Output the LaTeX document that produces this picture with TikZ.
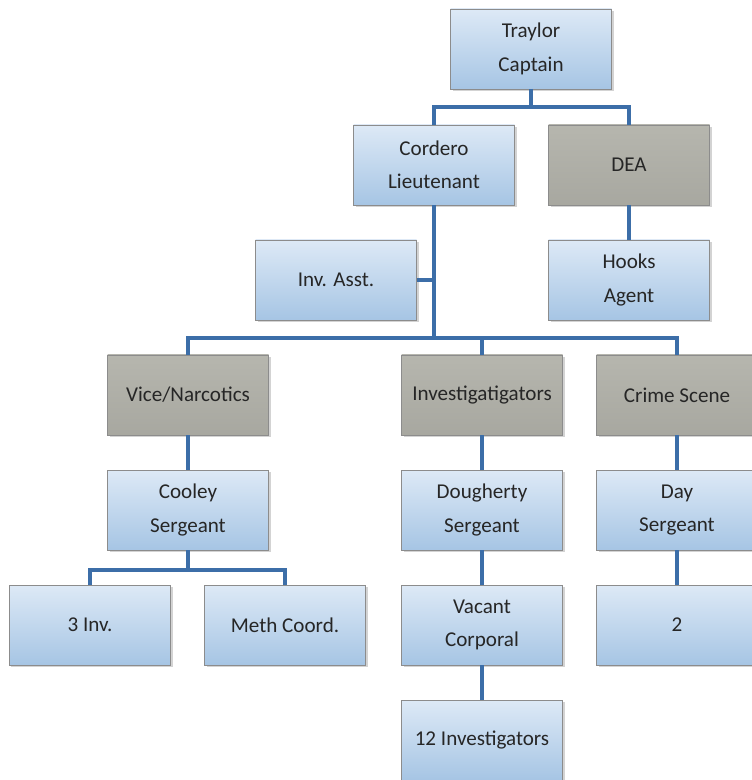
\documentclass[tikz,border=0pt]{standalone}
\usepackage{fontspec}
\setmainfont{Carlito}
\usepackage{xcolor}
\usepackage{tikz}
\usetikzlibrary{calc,positioning,shadows}
\definecolor{boxtop}{HTML}{DDE9F6}
\definecolor{boxbot}{HTML}{A6C5E4}
\definecolor{unitgray}{HTML}{B6B6AE}
\definecolor{linkblue}{HTML}{3C6EA8}
\tikzset{%
	bluebox/.style  = {draw=black!45, rectangle, minimum width=3.22cm, minimum height=1.6cm, inner sep=0pt, outer sep=0pt, top color=boxtop, bottom color=boxbot, align=center, text=black!85, font=\fontsize{12}{19}\selectfont, drop shadow={shadow xshift=0.04cm, shadow yshift=-0.04cm, opacity=0.35}},
	graybox/.style  = {bluebox, fill=unitgray, top color=unitgray, bottom color=unitgray!92!black}, % Unit
	link/.style     = {draw=linkblue, line width=2.6pt},
}
\begin{document}
\begin{tikzpicture}[node distance=2.3cm]
	\useasboundingbox (0,0) rectangle (15.02,-15.6);
	\node [bluebox] (traylor) at (10.62,-0.98) {Traylor\\Captain};
	\node [bluebox] (cordero) at (8.68,-3.3) {Cordero\\Lieutenant};
	\node [graybox] (dea) [right of=cordero,node distance=3.9cm] {DEA};
	\node [bluebox] (hooks) [below of=dea] {Hooks\\Agent};
	\node [bluebox] (invasst) at (6.72,-5.6) {Inv. Asst.};
	\node [graybox] (vice) at (3.76,-7.9) {Vice/Narcotics};
	\node [graybox] (invest) [right of=vice,node distance=5.88cm] {Investigatigators};
	\node [graybox] (crime) [right of=invest,node distance=3.9cm] {Crime Scene};
	\node [bluebox] (cooley) [below of=vice] {Cooley\\Sergeant};
	\node [bluebox] (dougherty) [below of=invest] {Dougherty\\Sergeant};
	\node [bluebox] (day) [below of=crime] {Day\\Sergeant};
	\node [bluebox] (threeinv) at (1.8,-12.5) {3 Inv.};
	\node [bluebox] (meth) [right of=threeinv,node distance=3.9cm] {Meth Coord.};
	\node [bluebox] (vacant) [below of=dougherty] {Vacant\\Corporal};
	\node [bluebox] (twelve) [below of=vacant] {12 Investigators};
	\node [bluebox] (two) [below of=day] {2};
	
	\draw[link] (cordero.north) |- ($(traylor.south)+(0,-0.36)$) -| (dea.north);
	\draw[link] (traylor) -- ($(traylor.south)+(0,-0.36)$);
	\draw[link] (dea) -- (hooks);
	\draw[link] (cordero) -- ($(cordero.south)+(0,-2.66)$) coordinate (bus);
	\draw[link] (invasst.east) -- (invasst.east -| cordero);
	\draw[link] (vice.north) |- (bus) -| (crime.north);
	\draw[link] (invest.north) -- (invest.north |- bus);
	\draw[link] (vice) -- (cooley);
	\draw[link] (threeinv.north) |- ($(cooley.south)+(0,-0.4)$) -| (meth.north);
	\draw[link] (cooley) -- ($(cooley.south)+(0,-0.4)$);
	\draw[link] (invest) -- (dougherty);
	\draw[link] (dougherty) -- (vacant);
	\draw[link] (vacant) -- (twelve);
	\draw[link] (crime) -- (day);
	\draw[link] (day) -- (two);
\end{tikzpicture}
\end{document}
